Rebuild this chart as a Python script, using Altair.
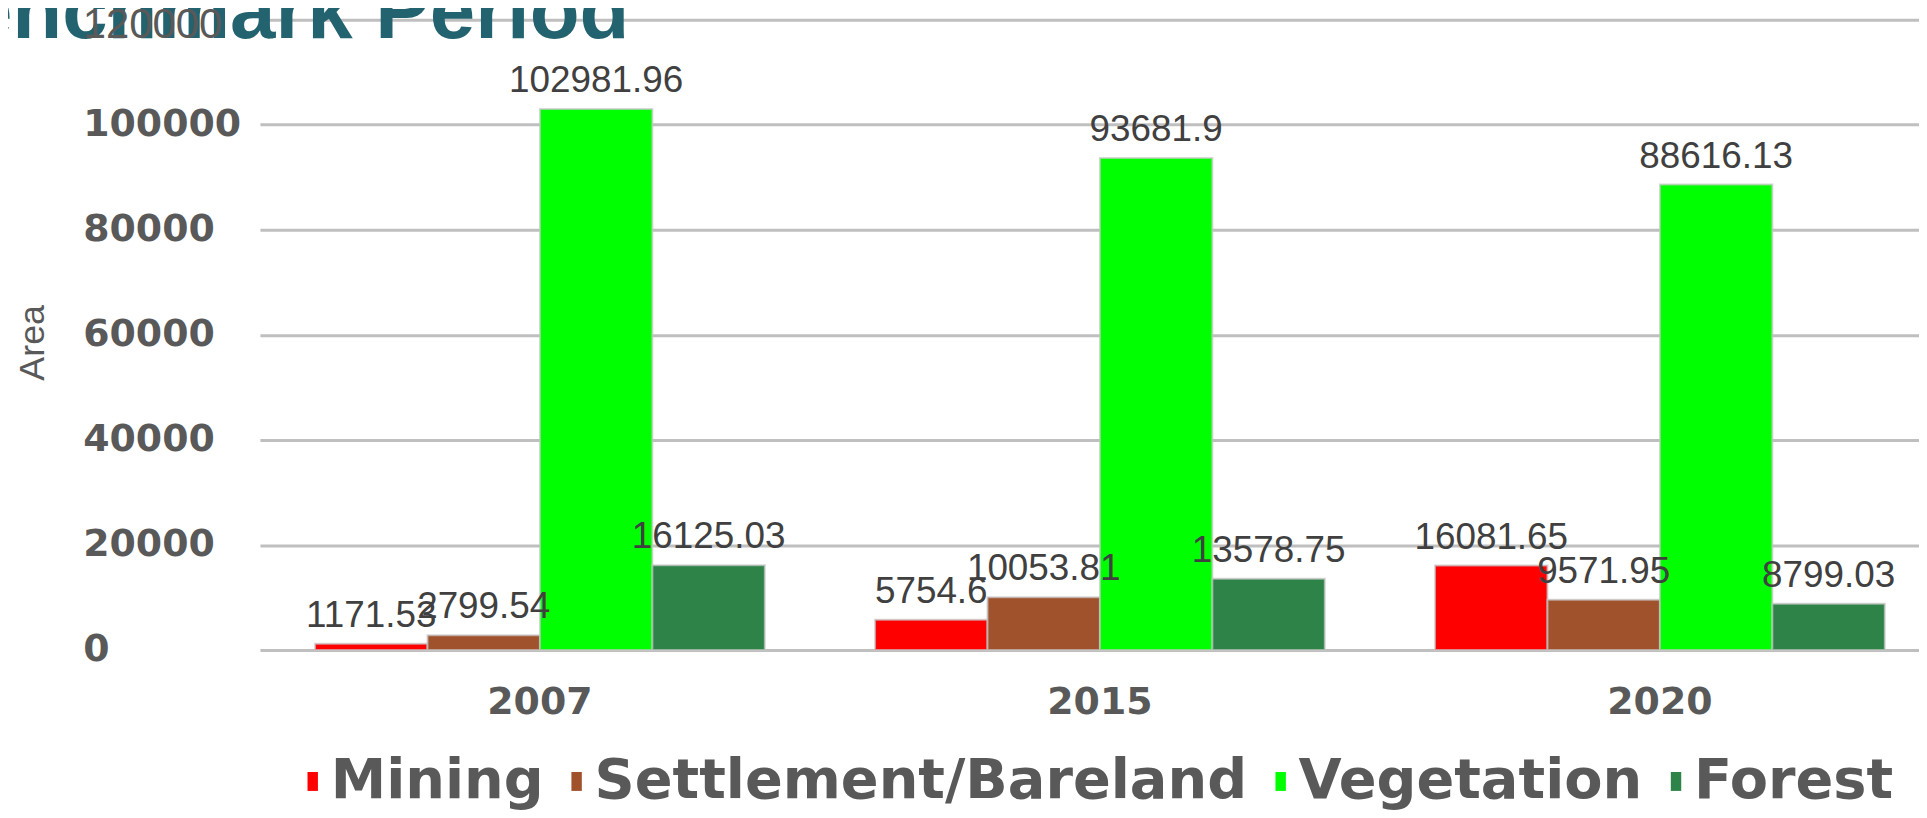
import altair as alt
import pandas as pd

years = ["2007", "2015", "2020"]
classes = ["Mining", "Settlement/Bareland", "Vegetation", "Forest"]
colors = ["#FF0000", "#A0522D", "#00FF00", "#2E8349"]
mining = [1171.53, 5754.6, 16081.65]
settlement = [2799.54, 10053.81, 9571.95]
vegetation = [102981.96, 93681.9, 88616.13]
forest = [16125.03, 13578.75, 8799.03]
y_ticks = [0, 20000, 40000, 60000, 80000, 100000, 120000]
title_text = "Benchmark Period"

series = {"Mining": mining, "Settlement/Bareland": settlement,
          "Vegetation": vegetation, "Forest": forest}
rows = []
for c in classes:
    for i, y in enumerate(years):
        rows.append({"Year": y, "Class": c, "Area": series[c][i]})
df = pd.DataFrame(rows)

x_enc = alt.X("Year:N", sort=years,
              scale=alt.Scale(range=[3, 1690], paddingInner=0, paddingOuter=0),
              axis=alt.Axis(title=None, labelAngle=0, labelFont="DejaVu Sans",
                            labelFontWeight="bold", labelFontSize=38,
                            labelColor="#595959", labelPadding=34,
                            labelBaseline="top", domain=False, ticks=False,
                            grid=False))
xoff = alt.XOffset("Class:N", sort=classes,
                   scale=alt.Scale(paddingOuter=0.49, paddingInner=0))
y_enc = alt.Y("Area:Q", scale=alt.Scale(domain=[0, 120000], nice=False),
              axis=alt.Axis(values=y_ticks, title="Area", titleFont="Liberation Sans",
                            titleFontWeight="normal", titleFontSize=36,
                            titleColor="#595959", titleAngle=-90,
                            titleX=-214, titleY=324, titleAlign="center",
                            titleBaseline="alphabetic",
                            labelAlign="left", labelBaseline="middle",
                            labelPadding=175, tickSize=0, ticks=False,
                            domain=False, labelColor="#595959",
                            labelFont="DejaVu Sans", labelFontWeight="bold",
                            labelFontSize=38,
                            labelExpr="datum.value == 120000 ? '' : datum.label",
                            gridColor="#BFBFBF", gridWidth=3, format="d"))

rect_path = "M-0.55,-1H0.55V1H-0.55Z"
bars = alt.Chart(df).mark_bar(stroke="#C8C8C8", strokeWidth=2, strokeOpacity=0.7).encode(
    x=x_enc, xOffset=xoff, y=y_enc,
    color=alt.Color("Class:N", sort=classes,
                    scale=alt.Scale(domain=classes, range=colors),
                    legend=alt.Legend(title=None, orient="none", direction="horizontal",
                                      legendX=28, legendY=737,
                                      labelFont="DejaVu Sans", labelFontWeight="bold",
                                      labelFontSize=56, labelColor="#595959",
                                      symbolType=rect_path, symbolSize=361,
                                      symbolStrokeWidth=0, labelOffset={"expr": "-10"},
                                      columnPadding=5, padding=0,
                                      labelLimit=1000)),
)

labels = alt.Chart(df).mark_text(font="Liberation Sans", fontSize=37, color="#404040",
                                 baseline="bottom", dy=-9).encode(
    x=alt.X("Year:N", sort=years), xOffset=alt.XOffset("Class:N", sort=classes),
    y="Area:Q", text=alt.Text("Area:Q"),
)

title_df = pd.DataFrame({"t": [title_text]})
title = alt.Chart(title_df).mark_text(font="Liberation Sans", fontWeight="bold",
                                      fontSize=82, color="#23636F", align="right",
                                      baseline="alphabetic").encode(
    x=alt.value(374), y=alt.value(18), text="t:N")

top_df = pd.DataFrame({"v": [y_ticks[-1]]})
top_label = alt.Chart(top_df).mark_text(font="Liberation Sans", fontSize=42,
                                        color="#595959", align="left",
                                        baseline="middle", dy=5).encode(
    x=alt.value(-175), y=alt.Y("v:Q"), text=alt.Text("v:Q", format="d"))

chart = alt.layer(title, top_label, bars, labels).properties(
    width=1669, height=633,
    autosize=alt.AutoSizeParams(type="none"),
    padding={"left": 250, "top": 10, "right": 0, "bottom": 167},
).configure_view(stroke=None)

chart.save("out.html", embed_options={"renderer": "svg", "actions": False})
